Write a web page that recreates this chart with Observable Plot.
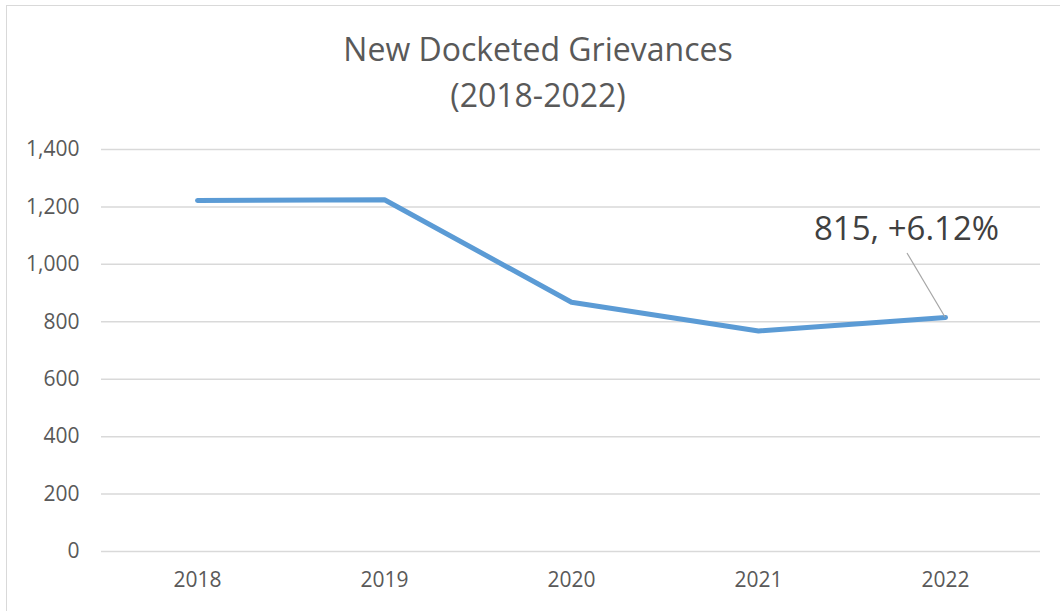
<!DOCTYPE html>
<html>
<head>
<meta charset="utf-8">
<script src="https://cdn.jsdelivr.net/npm/d3@7"></script>
<script src="https://cdn.jsdelivr.net/npm/@observablehq/plot@0.6"></script>
<style>
  html, body { margin: 0; padding: 0; background: #fff; overflow: hidden; }
  body { width: 1060px; height: 611px; position: relative; font-family: "Open Sans", sans-serif; }
  #frame { position: absolute; left: 6px; top: 5px; width: 1100px; height: 700px; border: 1.5px solid #d9d9d9; box-sizing: border-box; }
  #title { position: absolute; left: 0; top: 26px; width: 1076px; text-align: center; color: #595959; font-size: 32px; line-height: 46px; font-family: "Open Sans", sans-serif; }
  #chart { position: absolute; left: 0; top: 130px; }
</style>
</head>
<body>
<div id="frame"></div>
<div id="title">New Docketed Grievances<br>(2018-2022)</div>
<div id="chart"></div>
<script>
const years = ["2018", "2019", "2020", "2021", "2022"];
const grievances = [1222, 1225, 868, 768, 815];
const yTicks = [0, 200, 400, 600, 800, 1000, 1200, 1400];
const annotationText = "815, +6.12%";

const data = years.map((year, i) => ({year, value: grievances[i]}));
const last = data[data.length - 1];

const leader = (index, scales) => {
  const px = scales.x(last.year);
  const py = scales.y(last.value);
  const g = d3.create("svg:g");
  g.append("line")
    .attr("x1", px).attr("y1", py)
    .attr("x2", px - 38).attr("y2", py - 64)
    .attr("stroke", "#a6a6a6").attr("stroke-width", 1.2);
  return g.node();
};

const chart = Plot.plot({
  width: 1060,
  height: 481,
  marginLeft: 101,
  marginRight: 20,
  marginTop: 19,
  marginBottom: 60,
  style: {fontFamily: "Open Sans, sans-serif", fontSize: "21px", color: "#595959", background: "transparent"},
  x: {type: "point", domain: years, padding: 0.5, label: null, tickSize: 0, tickPadding: 21},
  y: {domain: [0, 1400], ticks: yTicks, tickFormat: d3.format(","), label: null, tickSize: 0, tickPadding: 22},
  marks: [
    Plot.gridY(yTicks, {stroke: "#d9d9d9", strokeOpacity: 1, strokeWidth: 1.5}),
    Plot.axisY(yTicks, {tickSize: 0, tickPadding: 22, tickFormat: d3.format(","), fill: "#595959", fontSize: 21}),
    Plot.axisX({tickSize: 0, tickPadding: 21, fill: "#595959", fontSize: 21}),
    Plot.line(data, {x: "year", y: "value", stroke: "#5b9bd5", strokeWidth: 5, strokeLinecap: "round", strokeLinejoin: "round"}),
    leader,
    Plot.text([last], {x: "year", y: "value", text: () => annotationText, dx: -39, dy: -88, fontSize: 33, fill: "#404040"})
  ]
});
document.getElementById("chart").appendChild(chart);
</script>
</body>
</html>
